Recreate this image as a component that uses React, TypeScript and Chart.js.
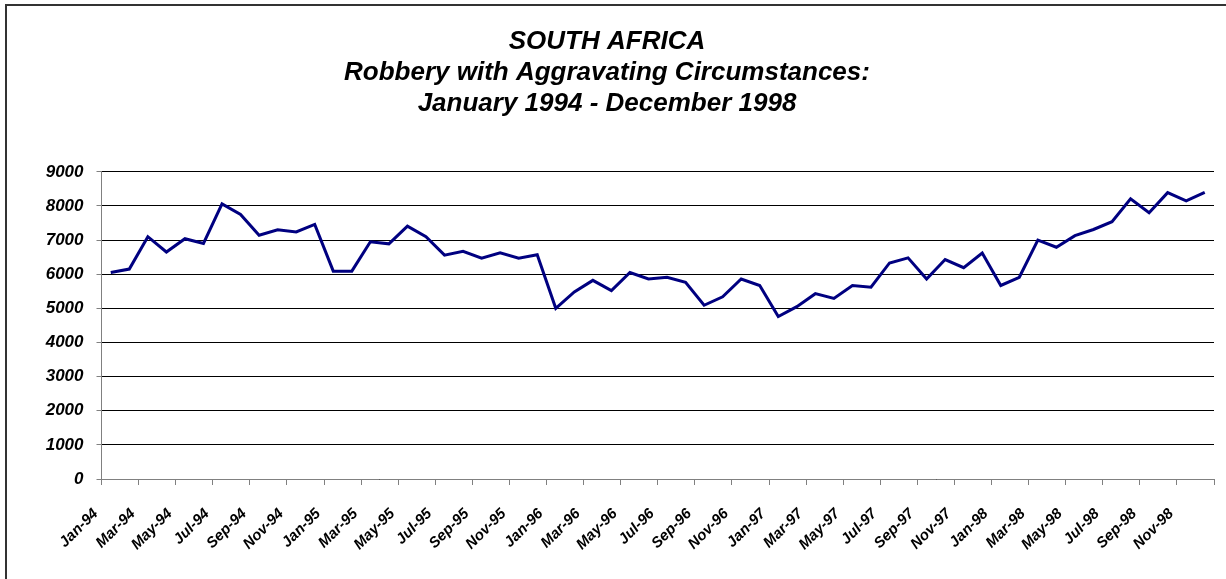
import React, { useEffect, useRef } from "react";
import { Chart, registerables } from "chart.js";

Chart.register(...registerables);

const categories: string[] = [
  "Jan-94", "Feb-94", "Mar-94", "Apr-94", "May-94", "Jun-94", "Jul-94", "Aug-94", "Sep-94", "Oct-94", "Nov-94", "Dec-94",
  "Jan-95", "Feb-95", "Mar-95", "Apr-95", "May-95", "Jun-95", "Jul-95", "Aug-95", "Sep-95", "Oct-95", "Nov-95", "Dec-95",
  "Jan-96", "Feb-96", "Mar-96", "Apr-96", "May-96", "Jun-96", "Jul-96", "Aug-96", "Sep-96", "Oct-96", "Nov-96", "Dec-96",
  "Jan-97", "Feb-97", "Mar-97", "Apr-97", "May-97", "Jun-97", "Jul-97", "Aug-97", "Sep-97", "Oct-97", "Nov-97", "Dec-97",
  "Jan-98", "Feb-98", "Mar-98", "Apr-98", "May-98", "Jun-98", "Jul-98", "Aug-98", "Sep-98", "Oct-98", "Nov-98", "Dec-98",
];

const robberies: number[] = [
  6050, 6150, 7100, 6650, 7040, 6900, 8060, 7750, 7140, 7300, 7240, 7460,
  6090, 6090, 6950, 6890, 7410, 7100, 6560, 6670, 6470, 6630, 6470, 6570,
  5000, 5480, 5820, 5520, 6050, 5860, 5910, 5760, 5090, 5340, 5860, 5670,
  4760, 5050, 5430, 5290, 5670, 5620, 6330, 6480, 5860, 6430, 6190, 6620,
  5670, 5910, 7000, 6790, 7130, 7310, 7540, 8210, 7800, 8390, 8150, 8400,
];

const titleLines: string[] = [
  "SOUTH AFRICA",
  "Robbery with Aggravating Circumstances:",
  "January 1994 - December 1998",
];

const yMin = 0;
const yMax = 9000;
const yStep = 1000;

const FONT = "'Liberation Sans', Arial, Helvetica, sans-serif";

export default function App() {
  const canvasRef = useRef<HTMLCanvasElement | null>(null);

  useEffect(() => {
    if (!canvasRef.current) return;
    const borderPlugin = {
      id: "frameBorder",
      beforeDraw(chart: any) {
        const ctx = chart.ctx;
        ctx.save();
        ctx.fillStyle = "#ffffff";
        ctx.fillRect(0, 0, chart.width, chart.height);
        ctx.strokeStyle = "#333333";
        ctx.lineWidth = 2;
        ctx.beginPath();
        ctx.moveTo(6, chart.height);
        ctx.lineTo(6, 5);
        ctx.lineTo(chart.width, 5);
        ctx.stroke();
        ctx.restore();
      },
    };

    const chart = new Chart(canvasRef.current, {
      type: "line",
      data: {
        labels: categories,
        datasets: [
          {
            label: "Robbery with Aggravating Circumstances",
            data: robberies,
            borderColor: "#000080",
            backgroundColor: "#000080",
            borderWidth: 3,
            pointRadius: 0,
            tension: 0,
            fill: false,
          },
        ],
      },
      options: {
        animation: false,
        responsive: true,
        maintainAspectRatio: false,
        layout: { padding: { left: 0, right: 12, top: 0, bottom: 0 } },
        plugins: {
          legend: { display: false },
          tooltip: { enabled: false },
          title: {
            display: true,
            text: titleLines,
            color: "#000000",
            font: { family: FONT, size: 26, weight: "bold", style: "italic", lineHeight: 1.19 },
            padding: { top: 26, bottom: 53 },
          },
        },
        scales: {
          x: {
            type: "category",
            offset: true,
            afterFit(scale: any) {
              scale.height = 100;
              scale.paddingLeft = 0;
              scale.paddingRight = 0;
            },
            border: { display: true, color: "#808080", width: 1 },
            grid: {
              display: true,
              offset: true,
              drawOnChartArea: false,
              drawTicks: true,
              tickLength: 6,
              tickColor: (ctx: any) =>
                ctx.index === undefined || ctx.index % 2 === 0 ? "#808080" : "rgba(0,0,0,0)",
            },
            ticks: {
              autoSkip: false,
              maxRotation: 45,
              minRotation: 45,
              padding: 20,
              labelOffset: -15,
              color: "#000000",
              font: { family: FONT, size: 15, weight: "bold", style: "italic" },
              callback: (_v: any, i: number) => (i % 2 === 0 ? categories[i] : ""),
            },
          },
          y: {
            min: yMin,
            max: yMax,
            afterFit(scale: any) {
              scale.width = 101.5;
            },
            border: { display: true, color: "#808080", width: 1 },
            grid: {
              color: "#000000",
              lineWidth: 1,
              drawTicks: true,
              tickLength: 5,
              tickColor: "#808080",
            },
            ticks: {
              stepSize: yStep,
              padding: 13,
              color: "#000000",
              font: { family: FONT, size: 17, weight: "bold", style: "italic" },
              callback: (v: any) => String(v),
            },
          },
        },
      },
      plugins: [borderPlugin],
    } as any);

    return () => chart.destroy();
  }, []);

  return (
    <div style={{ position: "fixed", left: 0, top: 0, width: 1226, height: 579, background: "#fff" }}>
      <canvas ref={canvasRef} />
    </div>
  );
}
